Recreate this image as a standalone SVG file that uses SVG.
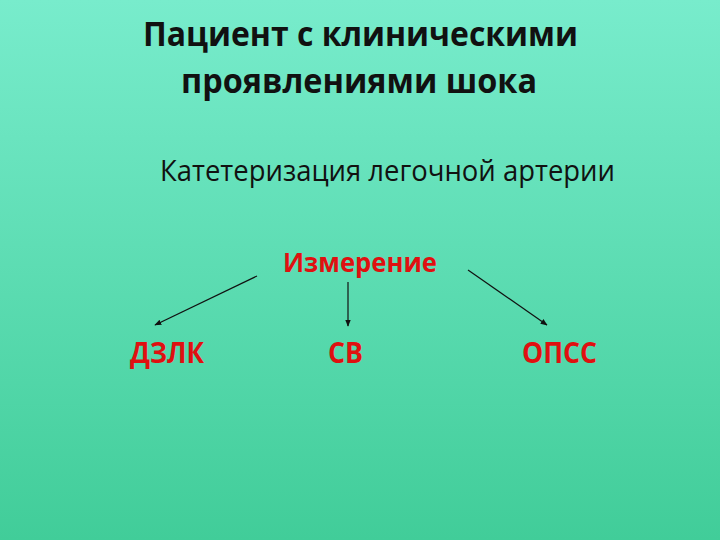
<svg xmlns="http://www.w3.org/2000/svg" width="720" height="540" viewBox="0 0 720 540">
<defs>
<linearGradient id="bg" x1="0" y1="0" x2="0" y2="1">
<stop offset="0" stop-color="#78ECCC"/>
<stop offset="1" stop-color="#41CD99"/>
</linearGradient>
<marker id="ah" viewBox="0 0 10 10" refX="9" refY="5" markerWidth="7" markerHeight="7" markerUnits="userSpaceOnUse" orient="auto">
<path d="M0,1 L10,5 L0,9 z" fill="#111"/>
</marker>
<style>
.t{font-family:"Open Sans","Noto Sans","DejaVu Sans",sans-serif;}
.title{font-size:34px;font-weight:bold;fill:#111;text-anchor:middle;}
.sub{font-size:29px;fill:#111;text-anchor:middle;}
.red{font-weight:bold;fill:#E01010;text-anchor:middle;}
.c{stroke:#111;stroke-width:1.2;fill:none;marker-end:url(#ah);}
</style>
</defs>
<rect width="720" height="540" fill="url(#bg)"/>
<g id="title" class="t">
<text class="t title" x="360.5" y="46" textLength="435" lengthAdjust="spacingAndGlyphs">Пациент с клиническими</text>
<text class="t title" x="359" y="93" textLength="356" lengthAdjust="spacingAndGlyphs">проявлениями шока</text>
</g>
<g id="catheter">
<text class="t sub" x="387.5" y="181" textLength="455" lengthAdjust="spacingAndGlyphs">Катетеризация легочной артерии</text>
</g>
<g id="measure">
<text class="t red" x="360" y="272" font-size="26" textLength="154" lengthAdjust="spacingAndGlyphs">Измерение</text>
</g>
<g id="dzlk">
<text class="t red" x="167" y="363" font-size="29" textLength="74" lengthAdjust="spacingAndGlyphs">ДЗЛК</text>
</g>
<g id="sv">
<text class="t red" x="345.5" y="363" font-size="29" textLength="35" lengthAdjust="spacingAndGlyphs">СВ</text>
</g>
<g id="opss">
<text class="t red" x="559.5" y="363" font-size="29" textLength="75" lengthAdjust="spacingAndGlyphs">ОПСС</text>
</g>
<g id="connectors">
<line class="c" x1="257" y1="276" x2="155" y2="325"/>
<line class="c" x1="348" y1="282" x2="348" y2="326"/>
<line class="c" x1="468" y1="270" x2="547" y2="325"/>
</g>
</svg>
